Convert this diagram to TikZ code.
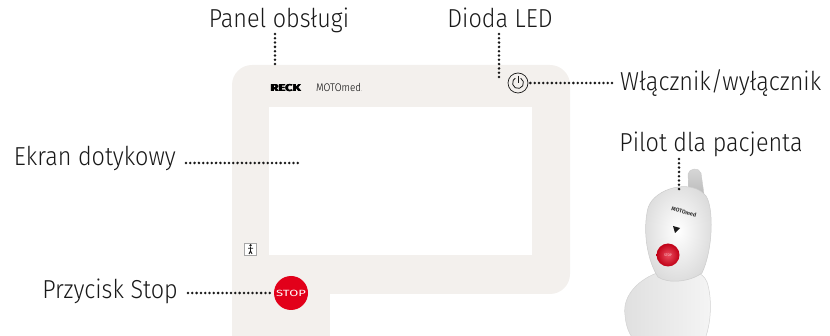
\documentclass[tikz,border=0pt]{standalone}
\usepackage{fontspec}
\setmainfont{Fira Sans Light}[FakeStretch=0.9]
\newfontfamily\logofont{Fira Sans}
\newfontfamily\reckfont{Fira Sans Bold}
\usetikzlibrary{calc}
\definecolor{panelgray}{RGB}{243,240,237}
\definecolor{stopred}{RGB}{226,0,26}
\definecolor{ink}{RGB}{25,25,25}

\begin{document}
\begin{tikzpicture}[x=1pt, y=-1pt,
  label/.style={font=\fontsize{26}{26}\selectfont, text=ink, inner sep=0pt},
  leader/.style={ink, line width=2.8pt, dash pattern=on 0pt off 4.3pt, line cap=round}]
  \useasboundingbox (0,0) rectangle (830,336);
  \clip (0,0) rectangle (830,336);
  % Panel body with the screen cut out
  \fill[panelgray, rounded corners=20] (232,65) rectangle (570,294);
  \fill[panelgray] (232,250) rectangle (330,336);
  \fill[white] (269,107) rectangle (532,255);
  % Logo line (heavy word mark drawn a few times, slightly offset)
  \foreach \dx in {0,0.4,0.8}
    \node[inner sep=0pt, anchor=base west, text=black] (reck) at (270+\dx,92)
      {\reckfont\fontsize{10}{10}\selectfont\scalebox{1.3}[1]{RECK}};
  \node[inner sep=0pt, anchor=base west] (moto) at (316,92)
    {\fontsize{11}{11}\selectfont MOTOmed{\fontsize{5}{5}\selectfont.}};
  % Power button
  \node[circle, draw=ink, line width=0.7pt, minimum size=20pt, inner sep=0pt] (powerbtn) at (518,83) {};
  \draw[ink, line width=0.8pt] (518,83) ++(-60:5.5) arc (-60:240:5.5);
  \draw[ink, line width=0.8pt] (518,76) -- (518,83);
  % Small person key
  \node[draw=gray!70, fill=white, minimum size=12pt, inner sep=0pt] (person) at (250.5,249) {};
  \fill[ink] (250.5,245.3) circle (1.3);
  \draw[ink, line width=0.9pt] (250.5,247) -- (250.5,251) (248,248.3) -- (253,248.3)
    (250.5,251) -- (249,254) (250.5,251) -- (252,254);
  % Stop button
  \node[circle, fill=stopred, minimum size=34pt, inner sep=0pt, text=white] (stopbtn) at (291,293)
    {\logofont\fontsize{9}{9}\selectfont\scalebox{1.45}[1]{STOP}};

  % Patient remote
  \shade[top color=gray!30, bottom color=gray!55, draw=gray!40, line width=0.4pt]
    (689,196) -- (688,174) .. controls (689,168) and (699,167) .. (701,173) -- (704,194) -- cycle;
  \shade[left color=gray!25, right color=gray!8, draw=gray!35, line width=0.5pt]
    (660,272) .. controls (640,278) and (622,295) .. (625,315) .. controls (626,330) and (632,340) .. (640,345)
    -- (702,345) .. controls (711,330) and (713,300) .. (707,282) .. controls (703,272) and (690,268) .. (680,268) -- cycle;
  \shade[inner color=white, outer color=gray!28, draw=gray!40, line width=0.5pt]
    (658,277) .. controls (648,262) and (642,232) .. (648,208) .. controls (654,188) and (692,178) .. (706,196)
    .. controls (714,208) and (713,250) .. (702,273) .. controls (690,282) and (668,284) .. (658,277) -- cycle;
  \node[rotate=-14, inner sep=0pt, text=gray!40!black] (remlogo) at (684,212)
    {\logofont\bfseries\fontsize{5.5}{5.5}\selectfont MOTOmed};
  \fill[ink] (673,226) -- (680,228) -- (675,233) -- cycle;
  \node[circle, minimum size=23pt, inner sep=0pt, inner color=stopred!70!white, outer color=stopred!85!black,
    text=white!80!stopred] (rembtn) at (668,255) {\logofont\fontsize{3.5}{3.5}\selectfont STOP};

  % Labels
  \node[label, anchor=base] (panel) at (279,28) {Panel obsługi};
  \node[label, anchor=base] (led) at (500,28) {Dioda LED};
  \node[label, anchor=base west] (switch) at (620,91) {Włącznik/wyłącznik};
  \node[label, anchor=base east] (screen) at (176,166) {Ekran dotykowy};
  \node[label, anchor=base east] (stop) at (178,299) {Przycisk Stop};
  \node[label, anchor=base] (pilot) at (711,152) {Pilot dla pacjenta};

  % Dotted leaders
  \coordinate (panelpt) at (275,66);
  \coordinate (ledpt) at (499,77);
  \coordinate (screenpt) at (298,163);
  \coordinate (pilotpt) at (679,192);
  \draw[leader] (panelpt |- panel.base) ++(0,6) -- (panelpt);
  \draw[leader] (ledpt |- led.base) ++(0,6) -- (ledpt);
  \draw[leader] ([xshift=2pt]powerbtn.east) -- ([xshift=-6pt]powerbtn -| switch.west);
  \draw[leader] ([xshift=10pt]screen.east |- screenpt) -- (screenpt);
  \draw[leader] ([xshift=10pt]stop.east |- stopbtn) -- ([xshift=-3pt]stopbtn.west);
  \draw[leader] (pilotpt |- pilot.base) ++(0,7) -- (pilotpt);
\end{tikzpicture}
\end{document}
